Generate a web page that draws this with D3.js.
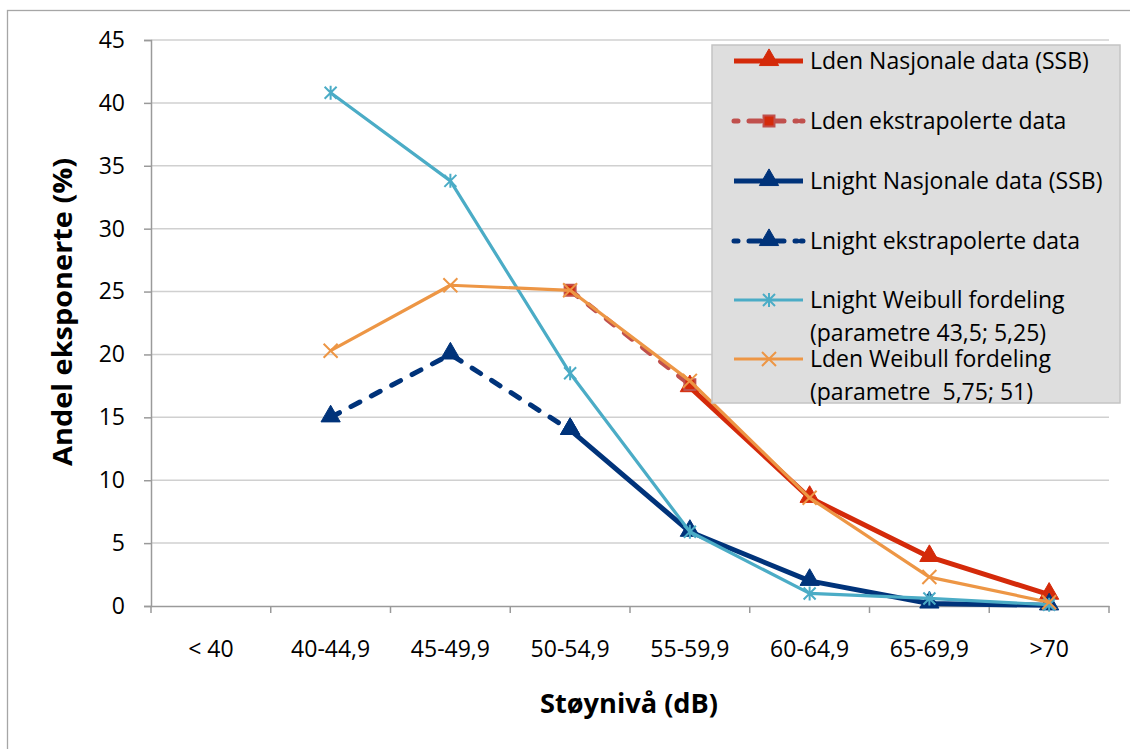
<!DOCTYPE html>
<html><head><meta charset="utf-8">
<script src="https://cdn.jsdelivr.net/npm/d3@7"></script>
<style>
body{margin:0;background:#fff;}
text{font-family:"Open Sans",sans-serif;fill:#000;}
</style></head>
<body>
<svg id="c" width="1130" height="749"></svg>
<script>
const categories = ["< 40","40-44,9","45-49,9","50-54,9","55-59,9","60-64,9","65-69,9",">70"];
const yTicks = [0,5,10,15,20,25,30,35,40,45];
const ldenNasjonale   = [null,null,null,null,17.4,8.6,3.9,0.9];
const ldenEkstrapol   = [null,null,null,25.1,17.6,null,null,null];
const lnightNasjonale = [null,null,null,14.0,5.9,2.0,0.2,0.05];
const lnightEkstrapol = [null,15.0,20.0,14.0,null,null,null,null];
const lnightWeibull   = [null,40.8,33.8,18.5,5.9,1.0,0.6,0.1];
const ldenWeibull     = [null,20.3,25.5,25.1,17.9,8.6,2.3,0.3];
const seriesNames = ["Lden Nasjonale data (SSB)","Lden ekstrapolerte data","Lnight Nasjonale data (SSB)","Lnight ekstrapolerte data",["Lnight Weibull fordeling","(parametre 43,5; 5,25)"],["Lden Weibull fordeling","(parametre  5,75; 51)"]];

const series = [
  {name:seriesNames[0], values:ldenNasjonale,   color:"#d42a0a", width:5,  dash:null,    marker:"triangle"},
  {name:seriesNames[1], values:ldenEkstrapol,   color:"#c0504d", width:5,  dash:"10,13", marker:"square"},
  {name:seriesNames[2], values:lnightNasjonale, color:"#00337a", width:5,  dash:null,    marker:"triangle"},
  {name:seriesNames[3], values:lnightEkstrapol, color:"#00337a", width:5,  dash:"10,13", marker:"triangle"},
  {name:seriesNames[4], values:lnightWeibull,   color:"#4bacc6", width:3.2,dash:null,    marker:"star"},
  {name:seriesNames[5], values:ldenWeibull,     color:"#ed9645", width:3.2,dash:null,    marker:"x"}
];

const svg = d3.select("#c");
const L=151, R=1109, T=40, B=606;
const x = d3.scaleBand().domain(categories).range([L,R]);
const y = d3.scaleLinear().domain([0,45]).range([B,T]);

// outer border
svg.append("rect").attr("x",7.5).attr("y",10.5).attr("width",1135).attr("height",760)
  .attr("fill","#fff").attr("stroke","#a6a6a6").attr("stroke-width",1.3);

// gridlines
svg.append("g").selectAll("line").data(yTicks.filter(d=>d>0)).join("line")
  .attr("x1",L).attr("x2",R).attr("y1",d=>y(d)).attr("y2",d=>y(d))
  .attr("stroke","#d0d0d0").attr("stroke-width",1.5);

// y axis
const yAxis = svg.append("g").attr("transform",`translate(${L},0)`)
  .call(d3.axisLeft(y).tickValues(yTicks).tickSize(7).tickPadding(19));
yAxis.select(".domain").attr("stroke","#9a9a9a").attr("stroke-width",1.5);
yAxis.selectAll(".tick line").attr("stroke","#9a9a9a").attr("stroke-width",1.5);
yAxis.selectAll("text").attr("font-size",23).attr("font-family","Open Sans").attr("fill","#000");

// x axis
const xAxis = svg.append("g").attr("transform",`translate(0,${B})`)
  .call(d3.axisBottom(x).tickSize(0).tickPadding(35));
xAxis.select(".domain").attr("stroke","#9a9a9a").attr("stroke-width",1.5);
xAxis.selectAll("text").attr("font-size",23).attr("font-family","Open Sans").attr("fill","#000");
// boundary ticks
const bounds = categories.map(c=>x(c)).concat([R]);
svg.append("g").selectAll("line").data(bounds).join("line")
  .attr("x1",d=>d).attr("x2",d=>d).attr("y1",B).attr("y2",B+7)
  .attr("stroke","#9a9a9a").attr("stroke-width",1.5);

// axis titles
svg.append("text").attr("x",(L+R)/2 - 1).attr("y",713).attr("text-anchor","middle")
  .attr("font-size",26).attr("font-weight","bold")
  .attr("textLength",178).attr("lengthAdjust","spacingAndGlyphs").text("Støynivå (dB)");
svg.append("text").attr("transform","translate(72,312) rotate(-90)").attr("text-anchor","middle")
  .attr("font-size",26).attr("font-weight","bold")
  .attr("textLength",308).attr("lengthAdjust","spacingAndGlyphs").text("Andel eksponerte (%)");

function markerPath(type){
  if(type==="triangle") return d3.symbol(d3.symbolTriangle,160)();
  if(type==="square") return d3.symbol(d3.symbolSquare,120)();
  if(type==="x") return "M-7,-7L7,7M-7,7L7,-7";
  if(type==="star") return "M-6,-6L6,6M-6,6L6,-6M0,-7L0,7";
}
function drawMarker(g, s, cx, cy){
  const m = g.append("path").attr("d",markerPath(s.marker)).attr("transform",`translate(${cx},${cy})`);
  if(s.marker==="triangle"){ m.attr("fill",s.color).attr("stroke",s.color).attr("stroke-width",1).attr("transform",`translate(${cx},${cy-1})`); }
  else if(s.marker==="square"){ m.attr("fill","#d42a0a").attr("stroke","#c0504d").attr("stroke-width",2); }
  else { m.attr("fill","none").attr("stroke",s.color).attr("stroke-width",2); }
}

const cx = c=>x(c)+x.bandwidth()/2;
const line = d3.line().defined(d=>d[1]!=null).x(d=>cx(d[0])).y(d=>y(d[1]));
const plot = svg.append("g");
series.forEach(s=>{
  const g = plot.append("g");
  const pts = categories.map((c,i)=>[c,s.values[i]]);
  g.append("path").attr("d",line(pts)).attr("fill","none").attr("stroke",s.color)
    .attr("stroke-width",s.width).attr("stroke-linejoin","round")
    .attr("stroke-linecap",s.dash?"round":"butt")
    .attr("stroke-dasharray",s.dash);
  pts.filter(d=>d[1]!=null).forEach(d=>drawMarker(g,s,cx(d[0]),y(d[1])));
});

// legend
const lg = svg.append("g");
lg.append("rect").attr("x",712).attr("y",45).attr("width",408).attr("height",358)
  .attr("fill","#dedede").attr("stroke","#c4c4c4").attr("stroke-width",1.5);
const rows = [61,121,181,241,300,359];
series.forEach((s,i)=>{
  const ry = rows[i];
  lg.append("line").attr("x1",734).attr("x2",803).attr("y1",ry).attr("y2",ry)
    .attr("stroke",s.color).attr("stroke-width",s.width)
    .attr("stroke-linecap",s.dash?"round":"butt")
    .attr("stroke-dasharray",s.dash?"4,11,12,11,12,11,2":null);
  drawMarker(lg,s,769,ry);
  const names = Array.isArray(s.name)?s.name:[s.name];
  names.forEach((n,j)=>{
    lg.append("text").attr("x",810).attr("y",ry+8+j*33).attr("font-size",23)
      .style("white-space","pre").text(n);
  });
});
</script>
</body></html>
